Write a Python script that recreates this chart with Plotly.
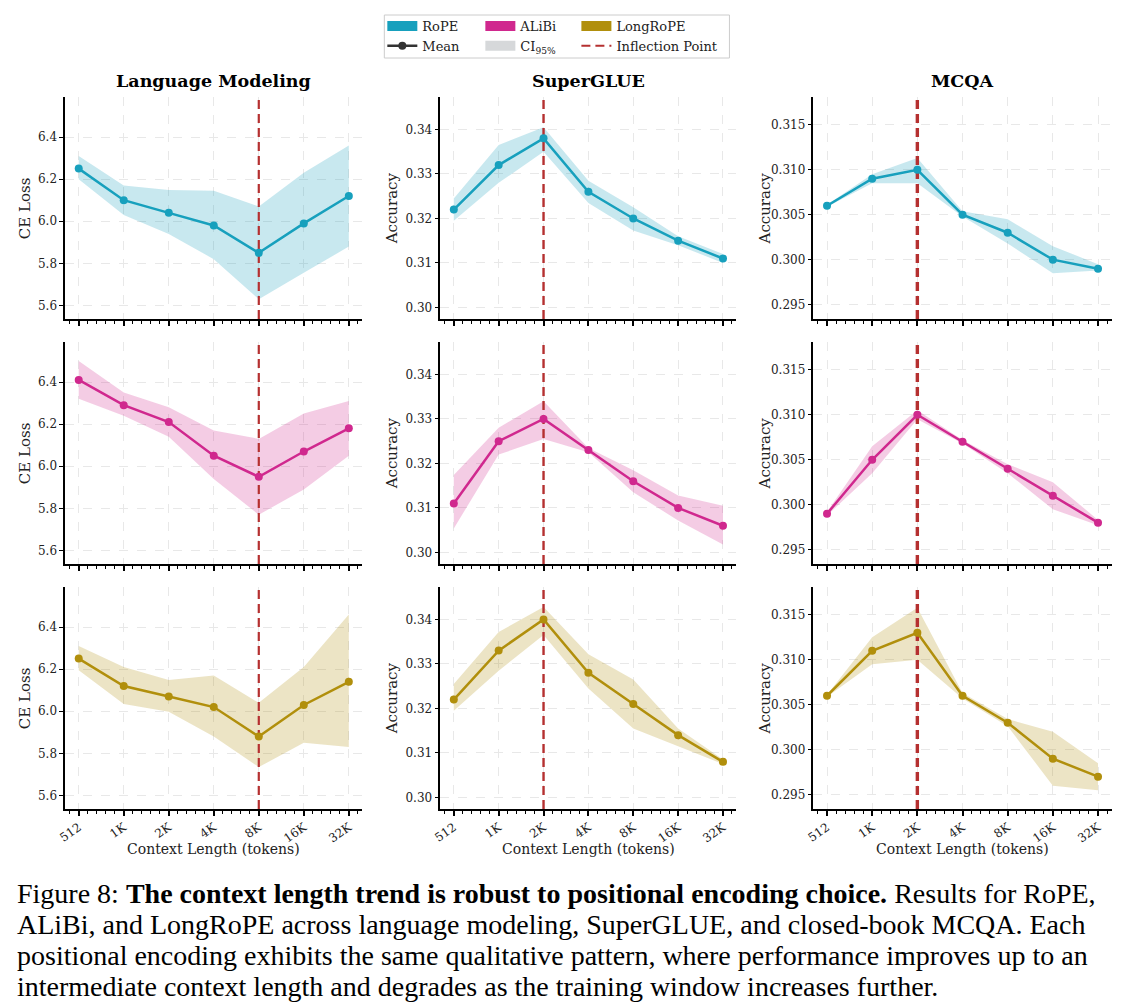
import math
import plotly.graph_objects as go

# the page shows the figure slightly shifted and narrowed, so positions are
# given in window pixels and mapped back to figure pixels here
X_OFF, X_SCALE, Y_OFF = 15.8, 0.9925, 8
W, H = 1117, 1000


def px(x):
    return (x - X_OFF) / X_SCALE / W


def py(y):
    return 1 - (y - Y_OFF) / H


context = [512, 1024, 2048, 4096, 8192, 16384, 32768]
tick_labels = ["512", "1K", "2K", "4K", "8K", "16K", "32K"]

encodings = ["RoPE", "ALiBi", "LongRoPE"]
tasks = ["Language Modeling", "SuperGLUE", "MCQA"]
y_titles = ["CE Loss", "Accuracy", "Accuracy"]
inflection = [8192, 2048, 2048]

# language modeling, CE loss
lm_rope_mean = [6.25, 6.10, 6.04, 5.98, 5.85, 5.99, 6.12]
lm_rope_lo = [6.20, 6.03, 5.94, 5.82, 5.63, 5.755, 5.88]
lm_rope_hi = [6.31, 6.17, 6.148, 6.145, 6.07, 6.23, 6.36]
lm_alibi_mean = [6.41, 6.29, 6.21, 6.05, 5.95, 6.07, 6.18]
lm_alibi_lo = [6.32, 6.24, 6.14, 5.94, 5.77, 5.89, 6.05]
lm_alibi_hi = [6.50, 6.35, 6.28, 6.17, 6.13, 6.25, 6.31]
lm_long_mean = [6.25, 6.12, 6.07, 6.02, 5.88, 6.03, 6.14]
lm_long_lo = [6.195, 6.034, 5.998, 5.88, 5.735, 5.85, 5.83]
lm_long_hi = [6.31, 6.21, 6.148, 6.17, 6.04, 6.21, 6.46]

# SuperGLUE accuracy
sg_rope_mean = [0.322, 0.332, 0.338, 0.326, 0.320, 0.315, 0.311]
sg_rope_lo = [0.3195, 0.328, 0.335, 0.3235, 0.3173, 0.3140, 0.3100]
sg_rope_hi = [0.3245, 0.3365, 0.3405, 0.3285, 0.3225, 0.3160, 0.3120]
sg_alibi_mean = [0.311, 0.325, 0.330, 0.323, 0.316, 0.310, 0.306]
sg_alibi_lo = [0.3054, 0.322, 0.3255, 0.3225, 0.3135, 0.3072, 0.3018]
sg_alibi_hi = [0.3174, 0.328, 0.334, 0.3235, 0.3185, 0.3128, 0.3105]
sg_long_mean = [0.322, 0.333, 0.340, 0.328, 0.321, 0.314, 0.308]
sg_long_lo = [0.3195, 0.3285, 0.3365, 0.3245, 0.3155, 0.3115, 0.3075]
sg_long_hi = [0.3255, 0.3372, 0.3428, 0.3322, 0.3265, 0.3155, 0.3085]

# MCQA accuracy
mc_rope_mean = [0.306, 0.309, 0.310, 0.305, 0.303, 0.300, 0.299]
mc_rope_lo = [0.3059, 0.3085, 0.3085, 0.3048, 0.3018, 0.2985, 0.2988]
mc_rope_hi = [0.3061, 0.3095, 0.3113, 0.3054, 0.3045, 0.3015, 0.2995]
mc_alibi_mean = [0.299, 0.305, 0.310, 0.307, 0.304, 0.301, 0.298]
mc_alibi_lo = [0.2988, 0.3035, 0.3095, 0.3068, 0.3035, 0.2995, 0.2977]
mc_alibi_hi = [0.2992, 0.3065, 0.3105, 0.3072, 0.3045, 0.3025, 0.2983]
mc_long_mean = [0.306, 0.311, 0.313, 0.306, 0.303, 0.299, 0.297]
mc_long_lo = [0.3059, 0.3095, 0.3100, 0.3057, 0.3026, 0.2960, 0.2955]
mc_long_hi = [0.3061, 0.3125, 0.3158, 0.3063, 0.3034, 0.3020, 0.2985]

data = [
    [(lm_rope_mean, lm_rope_lo, lm_rope_hi), (sg_rope_mean, sg_rope_lo, sg_rope_hi), (mc_rope_mean, mc_rope_lo, mc_rope_hi)],
    [(lm_alibi_mean, lm_alibi_lo, lm_alibi_hi), (sg_alibi_mean, sg_alibi_lo, sg_alibi_hi), (mc_alibi_mean, mc_alibi_lo, mc_alibi_hi)],
    [(lm_long_mean, lm_long_lo, lm_long_hi), (sg_long_mean, sg_long_lo, sg_long_hi), (mc_long_mean, mc_long_lo, mc_long_hi)],
]

colors = ["#17a0bd", "#d0288e", "#b18f0c"]
bands = ["rgba(23,160,189,0.24)", "rgba(208,40,142,0.24)", "rgba(177,143,12,0.24)"]
vline_color = "#b53030"

y_ranges = [[5.536, 6.59], [0.2974, 0.3473], [0.2934, 0.3181]]
y_ticks = [[5.6, 5.8, 6.0, 6.2, 6.4], [0.30, 0.31, 0.32, 0.33, 0.34], [0.295, 0.300, 0.305, 0.310, 0.315]]
y_formats = [".1f", ".2f", ".3f"]
vline_widths = [2.2, 2.4, 3.4]

# plot areas in window pixels
col_px = [(65, 362), (440, 736), (813, 1111)]
row_px = [(97, 319), (342, 564), (587, 809)]

serif = "DejaVu Serif"
x_range = [math.log10(2 ** 8.7), math.log10(2 ** 15.3)]
minor_vals = [2 ** (8.8 + 0.2 * k) for k in range(33)]

fig = go.Figure()

for r in range(3):
    for c in range(3):
        i = r * 3 + c + 1
        xa, ya = "x%d" % i, "y%d" % i
        mean, lo, hi = data[r][c]
        fig.add_trace(go.Scatter(
            x=context + context[::-1], y=hi + lo[::-1],
            fill="toself", fillcolor=bands[r], line=dict(width=0),
            mode="lines", hoverinfo="skip", showlegend=False, xaxis=xa, yaxis=ya,
        ))
        fig.add_trace(go.Scatter(
            x=[inflection[c], inflection[c]], y=y_ranges[c],
            mode="lines", line=dict(color=vline_color, width=vline_widths[c], dash="9px,5px"),
            showlegend=False, xaxis=xa, yaxis=ya,
        ))
        fig.add_trace(go.Scatter(
            x=context, y=mean, mode="lines+markers",
            line=dict(color=colors[r], width=2.5),
            marker=dict(color=colors[r], size=8),
            showlegend=False, xaxis=xa, yaxis=ya,
        ))

        x0, x1 = col_px[c]
        y0, y1 = row_px[r]
        sfx = "" if i == 1 else str(i)
        fig.layout["xaxis" + sfx] = dict(
            domain=[px(x0), px(x1)], anchor=ya, type="log", range=x_range,
            tickvals=context, ticktext=tick_labels, showticklabels=(r == 2),
            tickangle=-35, ticks="outside", ticklen=5, tickwidth=1.5, tickcolor="black",
            showline=True, linecolor="black", linewidth=1.5,
            showgrid=True, gridcolor="#e8e8e8", griddash="dash", gridwidth=0.8,
            minor=dict(tickvals=minor_vals, ticks="outside", ticklen=3, tickwidth=1,
                       tickcolor="black", showgrid=False),
            tickfont=dict(family=serif, size=12, color="#222"), zeroline=False,
        )
        fig.layout["yaxis" + sfx] = dict(
            domain=[py(y1), py(y0)], anchor=xa, range=y_ranges[c],
            tickvals=y_ticks[c], tickformat=y_formats[c],
            ticks="outside", ticklen=4, tickwidth=1.2, tickcolor="black",
            showline=True, linecolor="black", linewidth=1.5,
            showgrid=True, gridcolor="#e8e8e8", griddash="dash", gridwidth=0.8,
            tickfont=dict(family=serif, size=12, color="#222"), zeroline=False,
        )

annotations = []
for c in range(3):
    x0, x1 = col_px[c]
    annotations.append(dict(
        text="<b>%s</b>" % tasks[c], x=px((x0 + x1) / 2), y=py(81), xref="paper", yref="paper",
        showarrow=False, font=dict(family=serif, size=17.5, color="black"),
        xanchor="center", yanchor="middle",
    ))
    annotations.append(dict(
        text="Context Length (tokens)", x=px((x0 + x1) / 2), y=py(849), xref="paper", yref="paper",
        showarrow=False, font=dict(family=serif, size=14, color="#222"),
        xanchor="center", yanchor="middle",
    ))
    for r in range(3):
        y0, y1 = row_px[r]
        annotations.append(dict(
            text=y_titles[c], x=px(x0 - 40 if c == 0 else x0 - 48), y=py((y0 + y1) / 2),
            xref="paper", yref="paper", textangle=-90, showarrow=False,
            font=dict(family=serif, size=15, color="#222"), xanchor="center", yanchor="middle",
        ))

caption = [
    "Figure 8: <b>The context length trend is robust to positional encoding choice.</b> Results for RoPE,",
    "ALiBi, and LongRoPE across language modeling, SuperGLUE, and closed-book MCQA. Each",
    "positional encoding exhibits the same qualitative pattern, where performance improves up to an",
    "intermediate context length and degrades as the training window increases further.",
]
for k, line in enumerate(caption):
    annotations.append(dict(
        text=line, x=0, y=py(893 + 31 * k), xref="paper", yref="paper",
        xanchor="left", yanchor="middle", showarrow=False, borderpad=0,
        font=dict(family="Liberation Serif", size=28, color="black"),
    ))

# legend entries: one small legend per column, two rows each
legend_names = ["legend", "legend2", "legend3"]
for r in range(3):
    fig.add_trace(go.Scatter(
        x=[None], y=[None], mode="lines", name=encodings[r],
        line=dict(color=colors[r], width=10), legend=legend_names[r],
    ))
fig.add_trace(go.Scatter(
    x=[None], y=[None], mode="lines+markers", name="Mean",
    line=dict(color="#333333", width=2.5), marker=dict(color="#333333", size=8), legend="legend",
))
fig.add_trace(go.Scatter(
    x=[None], y=[None], mode="lines", name="CI<sub>95%</sub>",
    line=dict(color="#d6d8da", width=10), legend="legend2",
))
fig.add_trace(go.Scatter(
    x=[None], y=[None], mode="lines", name="Inflection Point",
    line=dict(color=vline_color, width=2, dash="9px,5px"), legend="legend3",
))

legend_style = dict(
    orientation="v", xanchor="left", yanchor="top", y=py(11),
    bgcolor="rgba(0,0,0,0)", font=dict(family=serif, size=13, color="#222"),
    itemwidth=30, tracegroupgap=0, traceorder="normal",
)

fig.update_layout(
    width=W, height=H, margin=dict(l=0, r=0, t=0, b=0),
    paper_bgcolor="white", plot_bgcolor="white",
    annotations=annotations,
    legend=dict(legend_style, x=px(382)),
    legend2=dict(legend_style, x=px(480)),
    legend3=dict(legend_style, x=px(576)),
    shapes=[dict(type="rect", xref="paper", yref="paper",
                 x0=px(384), x1=px(729), y0=py(58), y1=py(15),
                 line=dict(color="#cccccc", width=1), fillcolor="rgba(0,0,0,0)")],
)

fig.write_html("out.html")
